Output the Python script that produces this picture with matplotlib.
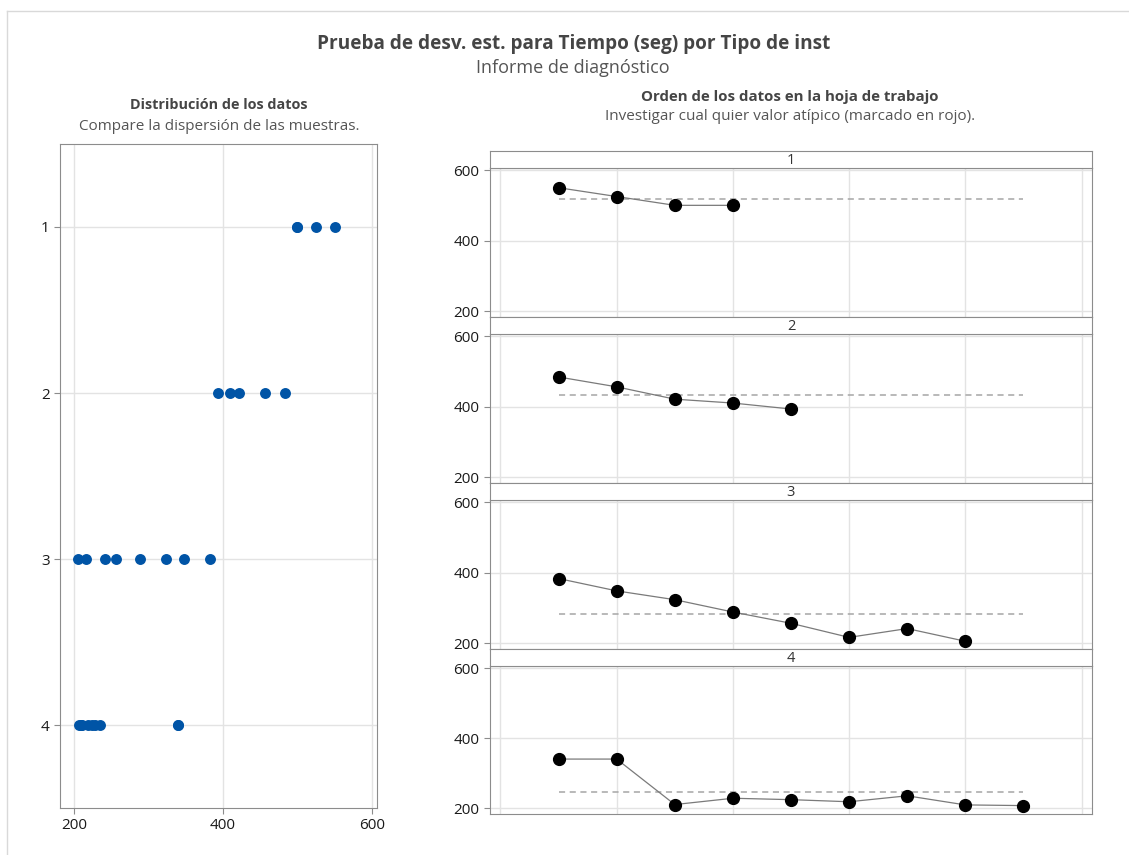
import numpy as np
import matplotlib
matplotlib.use("Agg")
import matplotlib.pyplot as plt
from matplotlib.lines import Line2D

plt.rcParams['font.family'] = ['Open Sans', 'DejaVu Sans']

# data (Tiempo (seg) by Tipo de inst, worksheet order)
groups = ['1', '2', '3', '4']
tiempo_1 = [550, 525, 500, 500]
tiempo_2 = [484, 456, 421, 410, 393]
tiempo_3 = [383, 348, 323, 288, 256, 216, 241, 205]
tiempo_4 = [340, 340, 210, 228, 224, 218, 235, 209, 207]
all_data = [tiempo_1, tiempo_2, tiempo_3, tiempo_4]

W, H = 1129, 855
fig = plt.figure(figsize=(W / 100, H / 100), dpi=100)

def fx(px):
    return px / W

def fy(py):
    return 1 - py / H

# light frame around the report
fig.add_artist(Line2D([fx(7), 1], [fy(11), fy(11)], color='#d9d9d9', lw=1))
fig.add_artist(Line2D([fx(7), fx(7)], [fy(11), 0], color='#d9d9d9', lw=1))

fig.text(fx(574), fy(44), 'Prueba de desv. est. para Tiempo (seg) por Tipo de inst',
         ha='center', va='center', fontsize=13.7, fontweight='bold', color='#454545')
fig.text(fx(573), fy(68), 'Informe de diagnóstico', ha='center', va='center',
         fontsize=13, color='#555555')

fig.text(fx(219), fy(105), 'Distribución de los datos', ha='center', va='center',
         fontsize=10.4, fontweight='bold', color='#454545')
fig.text(fx(219), fy(126), 'Compare la dispersión de las muestras.', ha='center',
         va='center', fontsize=11, color='#555555')
fig.text(fx(790), fy(97), 'Orden de los datos en la hoja de trabajo', ha='center',
         va='center', fontsize=10.8, fontweight='bold', color='#454545')
fig.text(fx(790), fy(116), 'Investigar cual quier valor atípico (marcado en rojo).',
         ha='center', va='center', fontsize=11, color='#555555')

spine_col = '#8c8c8c'
grid_col = '#e3e3e3'

# left: dot plot
ax = fig.add_axes([fx(60), fy(808), fx(377) - fx(60), fy(144) - fy(808)])
for i, vals in enumerate(all_data):
    ax.scatter(vals, [i + 1] * len(vals), s=62, color='#0054a6', zorder=3, linewidths=0)
ax.set_xlim(181, 607)
ax.set_ylim(4.5, 0.5)
ax.set_xticks([200, 400, 600])
ax.set_yticks([1, 2, 3, 4])
ax.set_yticklabels(groups)
ax.grid(True, color=grid_col, lw=1)
ax.set_axisbelow(True)
for s in ax.spines.values():
    s.set_color(spine_col)
ax.tick_params(colors=spine_col, labelcolor='#1a1a1a', labelsize=11, length=4)

# right: worksheet order panels
xmax = max(len(v) for v in all_data)
for i, vals in enumerate(all_data):
    top = 168 + 166 * i
    bot = 317 + 166 * i if i < 3 else 814
    a = fig.add_axes([fx(490), fy(bot), fx(1092) - fx(490), fy(top) - fy(bot)])
    x = np.arange(1, len(vals) + 1)
    a.plot(x, vals, color='#7a7a7a', lw=0.9, zorder=3)
    a.plot(x, vals, 'o', color='black', ms=8.5, zorder=4)
    a.plot([1, xmax], [np.mean(vals)] * 2, ls=(0, (4, 3)), color='#a6a6a6', lw=1.1, zorder=2)
    a.set_xlim(-0.18, 10.18)
    a.set_ylim(183, 606)
    a.set_xticks([0, 2, 4, 6, 8, 10])
    a.set_yticks([200, 400, 600])
    a.tick_params(axis='x', length=0, labelbottom=False)
    a.tick_params(axis='y', colors=spine_col, labelcolor='#1a1a1a', labelsize=11, length=4)
    a.grid(True, color=grid_col, lw=1)
    a.set_axisbelow(True)
    for s in a.spines.values():
        s.set_color(spine_col)

    # strip header
    st = fig.add_axes([fx(490), fy(top), fx(1092) - fx(490), fy(top - 17) - fy(top)])
    st.set_xticks([])
    st.set_yticks([])
    for s in st.spines.values():
        s.set_color(spine_col)
    st.text(0.5, 0.42, groups[i], ha='center', va='center', fontsize=10.5,
            color='#333333', transform=st.transAxes)

fig.savefig('out.png', dpi=100)
